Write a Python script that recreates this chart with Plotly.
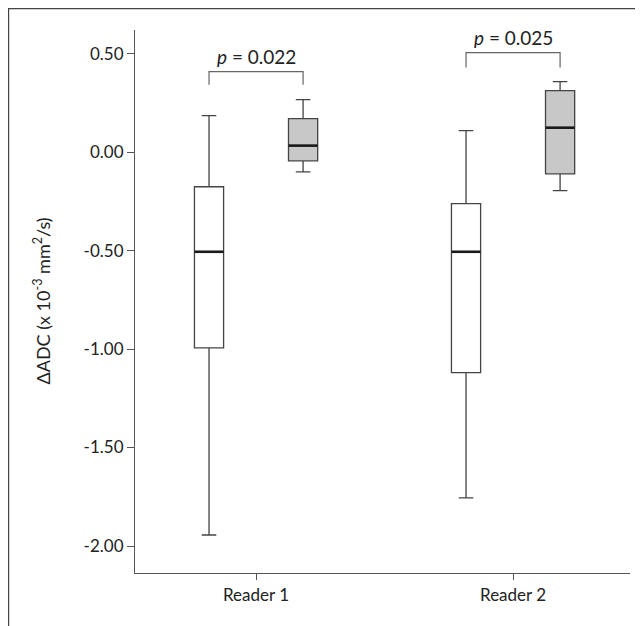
import plotly.graph_objects as go

categories = ["Reader 1", "Reader 2"]
# white boxes
w_low = [-1.944, -1.756]
w_q1 = [-0.994, -1.120]
w_med = [-0.506, -0.506]
w_q3 = [-0.176, -0.262]
w_up = [0.185, 0.109]
# grey boxes
g_low = [-0.100, -0.196]
g_q1 = [-0.044, -0.110]
g_med = [0.033, 0.124]
g_q3 = [0.170, 0.312]
g_up = [0.266, 0.358]

p_values = ["0.022", "0.025"]
bracket_top = [0.409, 0.505]
bracket_bottom = [0.342, 0.429]
p_text_y = [0.485, 0.581]

ytick_vals = [-2.0, -1.5, -1.0, -0.5, 0.0, 0.5]
ytick_text = ["-2.00", "-1.50", "-1.00", "-0.50", "0.00", "0.50"]

FONT = "Lato"
boxgap = 0.268
boxgroupgap = 0.69
offset = (1 - boxgap) / 4
box_w = (1 - boxgap) / 2 * (1 - boxgroupgap)

W, H = 635, 618
ML, MR, MT, MB = 127, 13, 22, 53
PW, PH = W - ML - MR, H - MT - MB

fig = go.Figure()
fig.add_trace(go.Box(
    x=categories, q1=w_q1, median=w_med, q3=w_q3, lowerfence=w_low, upperfence=w_up,
    fillcolor="white", line=dict(color="#444444", width=1.3), whiskerwidth=0.5,
    showlegend=False, hoverinfo="skip", name="A"))
fig.add_trace(go.Box(
    x=categories, q1=g_q1, median=g_med, q3=g_q3, lowerfence=g_low, upperfence=g_up,
    fillcolor="#c8c8c8", line=dict(color="#444444", width=1.3), whiskerwidth=0.5,
    showlegend=False, hoverinfo="skip", name="B"))

shapes = []
annotations = []
for i in range(len(categories)):
    for med, sgn in ((w_med[i], -1), (g_med[i], 1)):
        c = i + sgn * offset
        shapes.append(dict(type="line", xref="x", yref="y", x0=c - box_w / 2, x1=c + box_w / 2,
                           y0=med, y1=med, line=dict(color="#1a1a1a", width=2.6)))
    xl, xr = i - offset, i + offset
    shapes.append(dict(type="path", xref="x", yref="y",
                       path=f"M {xl},{bracket_bottom[i]} L {xl},{bracket_top[i]} L {xr},{bracket_top[i]} L {xr},{bracket_bottom[i]}",
                       line=dict(color="#666666", width=1.2)))
    annotations.append(dict(x=i, y=p_text_y[i], xref="x", yref="y", showarrow=False,
                            text="<i>p</i> = " + p_values[i],
                            font=dict(family=FONT, size=19, color="#222")))

# outer frame (left and top edges visible)
fx0 = (0.6 - ML) / PW
fy1 = (H - MB - 0.6) / PH
shapes.append(dict(type="rect", xref="paper", yref="paper", x0=fx0, x1=1.3, y0=-0.3, y1=fy1,
                   line=dict(color="#444", width=1.2), layer="above"))

# y title as annotation
annotations.append(dict(xref="paper", yref="paper", x=(42 - 8 - ML) / PW, y=0.5,
                        xanchor="center", yanchor="middle", showarrow=False, textangle=-90,
                        text="ΔADC (x 10<sup>-3</sup> mm<sup>2</sup>/s)",
                        font=dict(family=FONT, size=18, color="#222")))

fig.update_layout(
    width=W, height=H,
    margin=dict(l=ML, r=MR, t=MT, b=MB),
    paper_bgcolor="white", plot_bgcolor="white",
    boxmode="group", boxgap=boxgap, boxgroupgap=boxgroupgap,
    shapes=shapes, annotations=annotations,
    font=dict(family=FONT, size=17, color="#222"),
    xaxis=dict(range=[-0.471, 1.455], showline=True, linecolor="#555", linewidth=1.2,
               ticks="outside", ticklen=6, tickcolor="#555", showgrid=False, zeroline=False,
               tickfont=dict(family=FONT, size=17, color="#222")),
    yaxis=dict(range=[-2.137, 0.62], showline=True, linecolor="#555", linewidth=1.2,
               ticks="outside", ticklen=7, tickcolor="#555", showgrid=False, zeroline=False,
               tickvals=ytick_vals, ticktext=ytick_text,
               tickfont=dict(family=FONT, size=17, color="#222")),
)

fig.write_html("out.html")
